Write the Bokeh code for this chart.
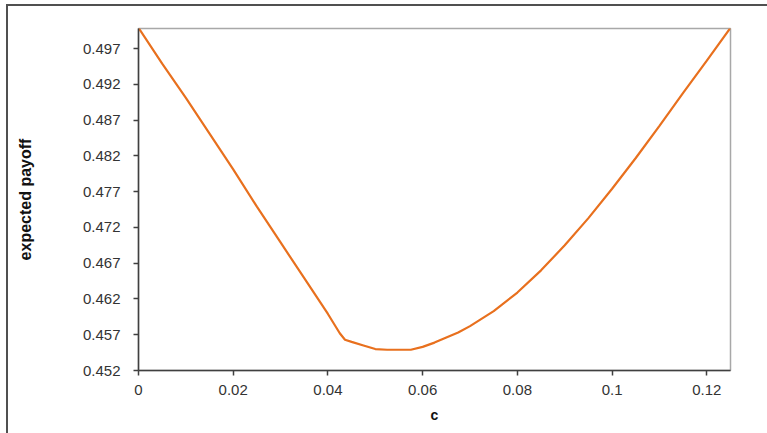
from bokeh.plotting import figure
from bokeh.layouts import column
from bokeh.models import FixedTicker, Range1d
from bokeh.embed import file_html
from bokeh.resources import INLINE

# ---- data ----
c_values = [0.0, 0.005, 0.010, 0.015, 0.020, 0.025, 0.030, 0.035, 0.040,
            0.0425, 0.0436, 0.045, 0.0475, 0.050, 0.0525, 0.055, 0.0575,
            0.060, 0.0625, 0.065, 0.0675, 0.070, 0.075, 0.080, 0.085,
            0.090, 0.095, 0.100, 0.105, 0.110, 0.115, 0.120, 0.125]
payoff = [0.4999, 0.4949, 0.4901, 0.4851, 0.4801, 0.4749, 0.4699, 0.4649, 0.4599,
          0.4572, 0.4563, 0.4560, 0.4555, 0.4550, 0.4549, 0.4549, 0.4549,
          0.4553, 0.4559, 0.4566, 0.4573, 0.4582, 0.4603, 0.4629, 0.4660,
          0.4695, 0.4733, 0.4774, 0.4817, 0.4862, 0.4908, 0.4953, 0.4999]

x_ticks = [0, 0.02, 0.04, 0.06, 0.08, 0.1, 0.12]
x_tick_labels = ["0", "0.02", "0.04", "0.06", "0.08", "0.1", "0.12"]
y_ticks = [0.452, 0.457, 0.462, 0.467, 0.472, 0.477, 0.482, 0.487, 0.492, 0.497]
y_tick_labels = ["0.452", "0.457", "0.462", "0.467", "0.472", "0.477",
                 "0.482", "0.487", "0.492", "0.497"]

x_title = "c"
y_title = "expected payoff"

# outer chart border sits at x=7, y=5 in the window; figure starts after it
OX, OY = 8, 6
W, H = 767 - OX, 433 - OY
FL, FR, FT, FB = 138 - OX, 730 - OX, 28 - OY, 370 - OY

p = figure(width=W, height=H, output_backend="svg", toolbar_location=None,
           x_range=Range1d(0, 0.125), y_range=Range1d(0.452, 0.4998),
           min_border_left=FL, min_border_right=W - FR,
           min_border_top=FT, min_border_bottom=H - FB)

p.line(c_values, payoff, line_color="#E8701E", line_width=2.2)

p.xgrid.visible = False
p.ygrid.visible = False
p.outline_line_color = "#A8A8A8"
p.outline_line_width = 1.5
p.background_fill_color = "white"
p.border_fill_color = "white"

font = "Liberation Sans"
for ax in (p.xaxis[0], p.yaxis[0]):
    ax.axis_line_color = "#404040"
    ax.axis_line_width = 1.5
    ax.major_tick_line_color = "#404040"
    ax.major_tick_line_width = 1.5
    ax.major_tick_out = 5
    ax.major_tick_in = 0
    ax.minor_tick_line_color = None
    ax.major_label_text_font = font
    ax.major_label_text_font_size = "15px"
    ax.major_label_text_color = "#333333"
    ax.axis_label_text_font = font
    ax.axis_label_text_font_style = "bold"
    ax.axis_label_text_color = "#111111"

p.xaxis.ticker = FixedTicker(ticks=x_ticks)
p.xaxis.major_label_overrides = dict(zip(x_ticks, x_tick_labels))
p.yaxis.ticker = FixedTicker(ticks=y_ticks)
p.yaxis.major_label_overrides = dict(zip(y_ticks, y_tick_labels))

p.xaxis.axis_label = x_title
p.xaxis.axis_label_text_font_size = "14px"
p.xaxis.major_label_standoff = 9
p.xaxis.axis_label_standoff = 9

p.yaxis.axis_label = y_title
p.yaxis.axis_label_text_font_size = "16px"
p.yaxis.major_label_standoff = 13
p.yaxis.axis_label_standoff = 46

layout = column(p, styles={"border-left": "2px solid #505050",
                           "border-top": "2px solid #505050",
                           "margin-left": f"{OX - 2}px",
                           "margin-top": f"{OY - 2}px",
                           "background": "white"})

open("out.html", "w").write(file_html(layout, INLINE))
